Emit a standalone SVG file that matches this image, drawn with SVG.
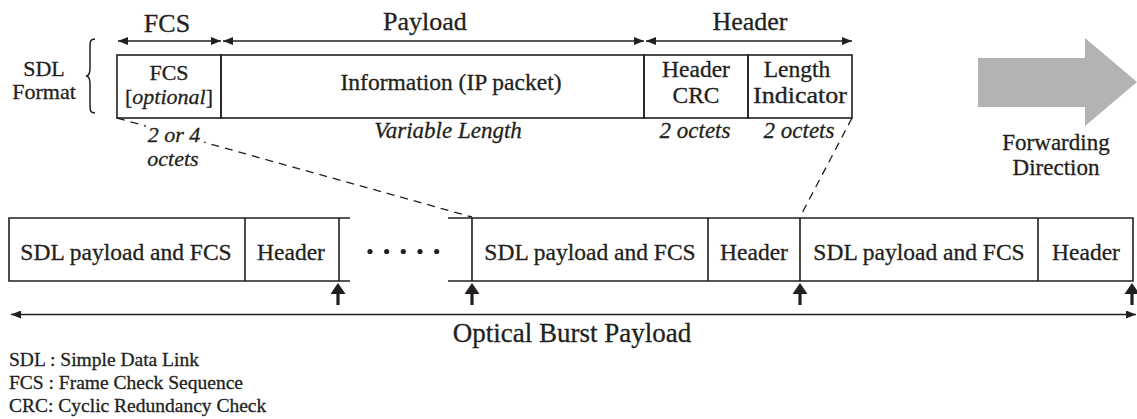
<svg xmlns="http://www.w3.org/2000/svg" width="1137" height="419" viewBox="0 0 1137 419" font-family="'Liberation Serif', serif">
  <style>
    text { font-family: "Liberation Serif", serif; fill: #231f20; stroke: #231f20; stroke-width: 0.3; }
    .box { fill: none; stroke: #231f20; stroke-width: 1.6; }
    .ln { fill: none; stroke: #231f20; stroke-width: 1.5; }
    .dash { fill: none; stroke: #231f20; stroke-width: 1.3; stroke-dasharray: 8 6; }
    .it { font-style: italic; }
    .mid { text-anchor: middle; }
  </style>
  <defs>
    <marker id="tri" viewBox="0 0 10 8" refX="10" refY="4" markerWidth="10" markerHeight="8" markerUnits="userSpaceOnUse" orient="auto-start-reverse">
      <path d="M0,0 L10,4 L0,8 Z" fill="#231f20"/>
    </marker>
    <g id="up">
      <path d="M0,0 L-7.5,11 L7.5,11 Z" fill="#231f20"/>
      <rect x="-1.6" y="10" width="3.2" height="12" fill="#231f20"/>
    </g>
  </defs>

  <!-- connectors: span arrows, zoom-in guides, frame boundary marks -->
  <g id="connectors">
    <line class="ln" x1="118" y1="41" x2="221" y2="41" marker-start="url(#tri)" marker-end="url(#tri)"/>
    <line class="ln" x1="223" y1="41" x2="644" y2="41" marker-start="url(#tri)" marker-end="url(#tri)"/>
    <line class="ln" x1="646" y1="41" x2="852" y2="41" marker-start="url(#tri)" marker-end="url(#tri)"/>
    <line class="dash" x1="117" y1="118" x2="472" y2="217"/>
    <line class="dash" x1="852" y1="118" x2="800" y2="217"/>
    <line class="ln" x1="11" y1="314.5" x2="1136" y2="314.5" marker-start="url(#tri)" marker-end="url(#tri)"/>
    <use href="#up" x="338" y="283"/>
    <use href="#up" x="472" y="283"/>
    <use href="#up" x="800" y="283"/>
    <use href="#up" x="1132" y="283"/>
  </g>

  <!-- field span labels over the SDL frame -->
  <g id="span-labels">
    <text class="mid" x="167" y="32" font-size="26">FCS</text>
    <text class="mid" x="425" y="30" font-size="26">Payload</text>
    <text class="mid" x="750" y="30" font-size="26">Header</text>
  </g>

  <!-- SDL Format caption with brace -->
  <g id="sdl-format-label">
    <text class="mid" x="44" y="76" font-size="22">SDL</text>
    <text class="mid" x="44" y="99" font-size="22">Format</text>
    <path class="ln" stroke-width="1.2" d="M95,39 C90,39 90,42 90,48 L90,68 C90,73 89,76 86,76 C89,76 90,79 90,84 L90,104 C90,110 90,113 95,113"/>
  </g>

  <!-- SDL frame fields -->
  <g id="sdl-fcs">
    <rect class="box" x="117" y="55" width="104" height="63"/>
    <text class="mid" x="169" y="80" font-size="22">FCS</text>
    <text class="mid" x="169" y="104" font-size="22">[<tspan class="it">optional</tspan>]</text>
    <rect x="146" y="124" width="58" height="22" fill="#fff"/>
    <text class="it mid" x="174" y="142" font-size="22">2 or 4</text>
    <text class="it mid" x="173" y="166" font-size="22">octets</text>
  </g>
  <g id="sdl-information">
    <rect class="box" x="221" y="55" width="423" height="63"/>
    <text class="mid" x="451" y="90" font-size="23.5">Information (IP packet)</text>
    <text class="it mid" x="448" y="138" font-size="23">Variable Length</text>
  </g>
  <g id="sdl-header-crc">
    <rect class="box" x="644" y="55" width="104" height="63"/>
    <text class="mid" x="696" y="77" font-size="23.5">Header</text>
    <text class="mid" x="696" y="103" font-size="23.5">CRC</text>
    <text class="it mid" x="695" y="138" font-size="23">2 octets</text>
  </g>
  <g id="sdl-length-indicator">
    <rect class="box" x="748" y="55" width="104" height="63"/>
    <text class="mid" x="797" y="77" font-size="23.5">Length</text>
    <text class="mid" x="800" y="103" font-size="23.5" textLength="94" lengthAdjust="spacingAndGlyphs">Indicator</text>
    <text class="it mid" x="799" y="138" font-size="23">2 octets</text>
  </g>

  <!-- forwarding direction -->
  <g id="forwarding-direction">
    <polygon points="978,58 1085,58 1085,38 1137,82 1085,126 1085,107 978,107" fill="#b3b3b3"/>
    <text class="mid" x="1056" y="150" font-size="23">Forwarding</text>
    <text class="mid" x="1056" y="175" font-size="23">Direction</text>
  </g>

  <!-- optical burst: first SDL frame -->
  <g id="burst-frame-1">
    <path class="box" d="M350,218 L9,218 L9,281 L350,281 M245,218 L245,281 M339,218 L339,281"/>
    <text class="mid" x="126" y="260" font-size="23.5">SDL payload and FCS</text>
    <text class="mid" x="291" y="260" font-size="23.5">Header</text>
  </g>
  <g id="burst-gap">
    <circle cx="370" cy="251.5" r="2.6" fill="#231f20"/>
    <circle cx="386.7" cy="251.5" r="2.6" fill="#231f20"/>
    <circle cx="403.3" cy="251.5" r="2.6" fill="#231f20"/>
    <circle cx="420" cy="251.5" r="2.6" fill="#231f20"/>
    <circle cx="436.7" cy="251.5" r="2.6" fill="#231f20"/>
  </g>
  <g id="burst-frame-n">
    <path class="box" d="M448,218 L1133,218 L1133,281 L448,281 M472,218 L472,281 M708,218 L708,281 M800,218 L800,281 M1038,218 L1038,281"/>
    <text class="mid" x="590" y="260" font-size="23.5">SDL payload and FCS</text>
    <text class="mid" x="754" y="260" font-size="23.5">Header</text>
    <text class="mid" x="919" y="260" font-size="23.5">SDL payload and FCS</text>
    <text class="mid" x="1086" y="260" font-size="23.5">Header</text>
  </g>

  <g id="burst-label">
    <text class="mid" x="572" y="342" font-size="27">Optical Burst Payload</text>
  </g>

  <!-- abbreviations -->
  <g id="legend">
    <text x="9" y="366" font-size="19.5">SDL : Simple Data Link</text>
    <text x="9" y="389" font-size="19.5">FCS : Frame Check Sequence</text>
    <text x="9" y="412" font-size="19.5">CRC: Cyclic Redundancy Check</text>
  </g>
</svg>
